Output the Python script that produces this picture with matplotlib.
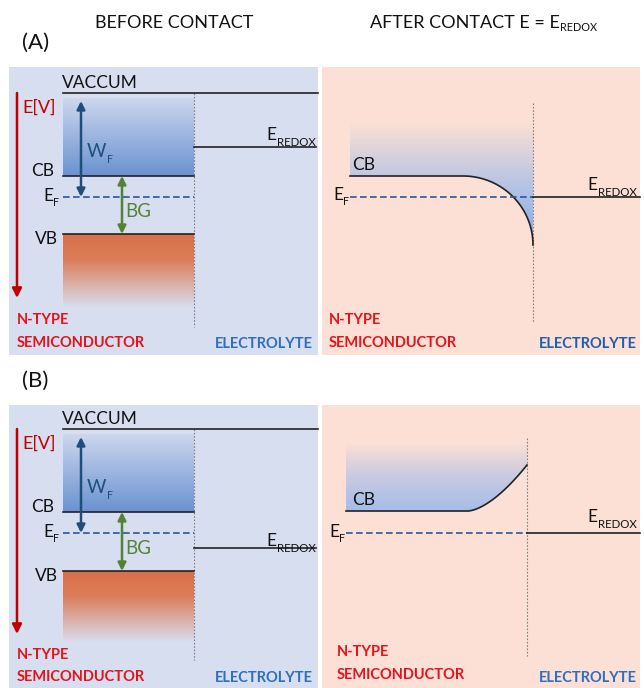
import numpy as np
import matplotlib
matplotlib.use("Agg")
import matplotlib.pyplot as plt
from matplotlib.colors import to_rgba
from matplotlib.patches import Rectangle, Polygon

plt.rcParams['font.family'] = ['Lato', 'DejaVu Sans']

# niveles de energia (pixeles de la figura, y hacia abajo), fila A y fila B
panel_top = [67, 405]
panel_bot = [355, 688]
vacuum_y = [93, 429]
cb_y = [176, 512]
ef_y = [197, 533]
vb_y = [234, 571]
redox_y = [147, 548]
redox_label_y = [140, 546]
vb_fade_y = [307, 642]
# despues del contacto: nivel CB, inicio de la curvatura, extremo en la interfase
cb_after_y = [176, 511]
bend_start_x = [463, 468]
bend_end_y = [245, 465]
band_top_after = [122, 443]
ef_after_y = [197, 533]
redox_after_label_y = [190, 522]
row_labels = ['(A)', '(B)']

BG_L = '#d7deef'
BG_R = '#fce0d5'
RED = '#e3141b'
DARKRED = '#c00000'
BLUE_T = '#2f6ebf'
NAVY = '#1f4e79'
GREEN = '#548235'
DASH = '#2f5597'
INK = '#111111'


def gradient(ax, x0, x1, y0, y1, stops, clip=None, z=1):
    t = np.linspace(0, 1, 256)
    pos = [s[0] for s in stops]
    cols = np.array([to_rgba(s[1]) for s in stops])
    img = np.stack([np.interp(t, pos, cols[:, k]) for k in range(4)], axis=-1)
    img = img[:, None, :]
    im = ax.imshow(img, extent=(x0, x1, y1, y0), aspect='auto',
                   interpolation='bilinear', zorder=z)
    if clip is not None:
        ax.add_patch(clip)
        clip.set_visible(False)
        im.set_clip_path(clip)
    return im


def sub(ax, x, yb, main, s, size, color=INK, ha='left', ratio=0.62, drop=5):
    # texto con subindice: la base del subindice baja 'drop' pixeles
    r = fig.canvas.get_renderer()
    tm = ax.text(x, yb, main, fontsize=size, color=color, va='baseline')
    ts = ax.text(x, yb + drop, s, fontsize=size * ratio, color=color, va='baseline')
    wm = tm.get_window_extent(r).width
    ws = ts.get_window_extent(r).width
    if ha == 'left':
        ts.set_x(x + wm + 0.5)
    else:
        tm.set_x(x - ws - wm - 0.5)
        ts.set_x(x - ws)


fig = plt.figure(figsize=(6.44, 6.88), dpi=100)
ax = fig.add_axes([0, 0, 1, 1])
ax.set_autoscale_on(False)
ax.set_xlim(0, 644)
ax.set_ylim(688, 0)

ax.text(174, 28, 'BEFORE CONTACT', fontsize=13, ha='center', va='baseline', color=INK)
sub(ax, 370, 28, 'AFTER CONTACT E = E', 'REDOX', 13, ratio=0.6, drop=3)

for i in range(2):
    top, bot = panel_top[i], panel_bot[i]
    ax.text(22, top - 24, row_labels[i], fontsize=16, ha='left', va='center', color=INK)

    # ---- antes del contacto
    ax.add_patch(Rectangle((9, top), 309, bot - top, color=BG_L, lw=0, zorder=0))
    x0, x1 = 63, 194
    gradient(ax, x0, x1, vacuum_y[i] + 5, cb_y[i],
             [(0, '#cdd7ee'), (1, '#6a91d1')], z=1)
    gradient(ax, x0, x1, vb_y[i], vb_fade_y[i],
             [(0, '#d8704a'), (0.35, '#dc7d58'), (1, BG_L)], z=1)
    ax.plot([x0, 318], [vacuum_y[i]] * 2, color='#222222', lw=1.2, zorder=3)
    ax.plot([x0, x1], [cb_y[i]] * 2, color='#222222', lw=1.2, zorder=3)
    ax.plot([x0, x1], [vb_y[i]] * 2, color='#222222', lw=1.2, zorder=3)
    ax.plot([x0, x1], [ef_y[i]] * 2, color=DASH, lw=1.2, dashes=(4, 2), zorder=3)
    ax.plot([x1, 316], [redox_y[i]] * 2, color='#222222', lw=1.2, zorder=3)
    ax.plot([x1, x1], [vacuum_y[i], bot - 28], color='#808080', lw=0.8,
            dashes=(1.5, 1.5), zorder=2)

    ax.text(62, vacuum_y[i] - 5, 'VACCUM', fontsize=12.5, ha='left',
            va='baseline', color=INK)
    ax.text(54, cb_y[i] - 0.5, 'CB', fontsize=12.5, ha='right', va='baseline', color=INK)
    ax.text(58, vb_y[i] + 10, 'VB', fontsize=12.5, ha='right', va='baseline', color=INK)
    sub(ax, 43, ef_y[i] + 4, 'E', 'F', 12.5)
    sub(ax, 316, redox_label_y[i], 'E', 'REDOX', 12.5, ha='right', ratio=0.66, drop=6)

    ax.annotate('', xy=(17, vacuum_y[i] + 205), xytext=(17, vacuum_y[i]),
                arrowprops=dict(arrowstyle='-|>', color=DARKRED, lw=1.8,
                                mutation_scale=14, shrinkA=0, shrinkB=0), zorder=4)
    ax.text(22, vacuum_y[i] + 20, 'E[V]', fontsize=13, color=DARKRED,
            ha='left', va='baseline')

    wx = 81
    ax.annotate('', xy=(wx, ef_y[i]), xytext=(wx, vacuum_y[i] + 8),
                arrowprops=dict(arrowstyle='<|-|>', color=NAVY, lw=1.8,
                                mutation_scale=12, shrinkA=0, shrinkB=0), zorder=4)
    sub(ax, 87, cb_y[i] - 19, 'W', 'F', 13.5, color=NAVY, ratio=0.58, drop=6)

    bx = 122
    ax.annotate('', xy=(bx, vb_y[i]), xytext=(bx, cb_y[i]),
                arrowprops=dict(arrowstyle='<|-|>', color=GREEN, lw=1.8,
                                mutation_scale=12, shrinkA=0, shrinkB=0), zorder=4)
    ax.text(125, (cb_y[i] + vb_y[i]) / 2 + 12, 'BG', fontsize=13.5, color=GREEN,
            ha='left', va='baseline')

    ax.text(17, bot - 35 + 2 * i, 'N-TYPE', fontsize=10.5,
            color=RED, weight='bold', ha='left', va='center')
    ax.text(17, bot - 12 + i, 'SEMICONDUCTOR', fontsize=10.5, color=RED,
            weight='bold', ha='left', va='center')
    ax.text(313, bot - 11 + i, 'ELECTROLYTE', fontsize=10.5,
            color=BLUE_T, weight='bold', ha='right', va='center')

    # ---- despues del contacto
    ax.add_patch(Rectangle((322, top), 318, bot - top, color=BG_R, lw=0, zorder=0))
    if i == 0:
        xa, xi = 350, 533
        t = np.linspace(0, np.pi / 2, 60)
        cx = bend_start_x[i] + (xi - bend_start_x[i]) * np.sin(t)
        cy = bend_end_y[i] - (bend_end_y[i] - cb_after_y[i]) * np.cos(t)
        grad_stops = [(0, BG_R), (0.4, '#c6c9e0'), (0.62, '#a9bfe6'), (1, '#86a8e0')]
        grad_bot = bend_end_y[i]
        vtop = 103
    else:
        xa, xi = 346, 527
        u = np.linspace(0, 1, 60)
        cx = bend_start_x[i] + (xi - bend_start_x[i]) * u
        cy = cb_after_y[i] - (cb_after_y[i] - bend_end_y[i]) * u ** 1.6
        grad_stops = [(0, BG_R), (0.45, '#cdcbe0'), (1, '#a3bde9')]
        grad_bot = cb_after_y[i]
        vtop = 438
    line_x = np.concatenate([[xa], cx])
    line_y = np.concatenate([[cb_after_y[i]], cy])
    poly = np.column_stack([
        np.concatenate([[xa, xi], cx[::-1], [xa]]),
        np.concatenate([[band_top_after[i], band_top_after[i]], cy[::-1],
                        [cb_after_y[i]]])])
    gradient(ax, xa, xi, band_top_after[i], grad_bot, grad_stops,
             clip=Polygon(poly, closed=True, transform=ax.transData), z=1)
    ax.plot(line_x, line_y, color='#222222', lw=1.2, zorder=3)
    ax.plot([xa, xi], [ef_after_y[i]] * 2, color=DASH, lw=1.2, dashes=(4, 2), zorder=3)
    ax.plot([xi, 640], [ef_after_y[i]] * 2, color='#222222', lw=1.2, zorder=3)
    ax.plot([xi, xi], [vtop, bot - 32], color='#808080', lw=0.8,
            dashes=(1.5, 1.5), zorder=2)
    ax.text(352, cb_after_y[i] - 6, 'CB', fontsize=12.5, ha='left',
            va='baseline', color=INK)
    sub(ax, xa - 17, ef_after_y[i] + 3 + i, 'E', 'F', 12.5)
    sub(ax, 637, redox_after_label_y[i], 'E', 'REDOX', 12.5, ha='right',
        ratio=0.66, drop=6)
    ax.text(329 + 8 * i, bot - 35 - i, 'N-TYPE',
            fontsize=10.5, color=RED, weight='bold', ha='left', va='center')
    ax.text(329 + 8 * i, bot - 12 - i, 'SEMICONDUCTOR', fontsize=10.5, color=RED,
            weight='bold', ha='left', va='center')
    ax.text(637, bot - 11 + i, 'ELECTROLYTE', fontsize=10.5,
            color='#1f5fae' if i == 0 else BLUE_T, weight='bold',
            ha='right', va='center')

ax.axis('off')
fig.savefig('out.png', dpi=100, facecolor='white')
